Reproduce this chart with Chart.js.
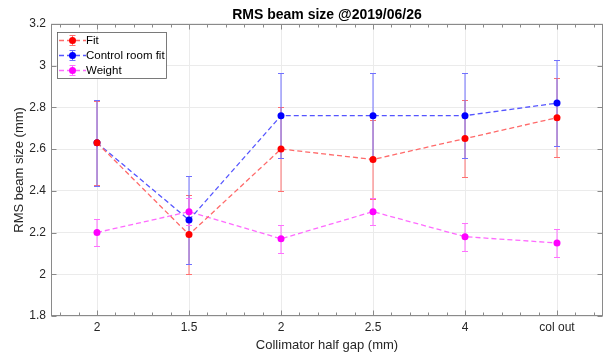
<!DOCTYPE html>
<html>
<head>
<meta charset="utf-8">
<script src="https://cdn.jsdelivr.net/npm/chart.js"></script>
<style>
  html, body { margin: 0; padding: 0; background: #fff; }
</style>
</head>
<body>
<canvas id="myChart" width="607" height="356"></canvas>
<script>
  // collimator half gap settings (x categories)
  const categories = ['2', '1.5', '2', '2.5', '4', 'col out'];

  const fitValues = [2.63, 2.19, 2.60, 2.55, 2.65, 2.75];
  const fitErrors = [0.20, 0.19, 0.20, 0.19, 0.185, 0.19];

  const controlValues = [2.63, 2.26, 2.76, 2.76, 2.76, 2.82];
  const controlErrors = [0.205, 0.21, 0.205, 0.205, 0.205, 0.205];

  const weightValues = [2.20, 2.30, 2.17, 2.30, 2.18, 2.15];
  const weightErrors = [0.065, 0.065, 0.067, 0.065, 0.067, 0.065];

  const yTicks = [1.8, 2, 2.2, 2.4, 2.6, 2.8, 3, 3.2];

  const FONT = 'Liberation Sans, Arial, Helvetica, sans-serif';

  // thin matlab lines look washed out, so use lighter opaque colours
  const solidColors = ['#ff0000', '#0000ff', '#ff00ff'];
  const lineColors = ['#ff6a6a', '#5555ff', '#ff6aff'];
  const errorColors = ['#ff7070', '#7070ff', '#ff70ff'];
  const errorSets = [fitErrors, controlErrors, weightErrors];

  const toPoints = vals => vals.map((v, i) => ({ x: i + 1, y: v }));

  const makeSet = (label, vals, k) => ({
    label: label,
    data: toPoints(vals),
    borderColor: lineColors[k],
    backgroundColor: solidColors[k],
    borderWidth: 1.3,
    borderDash: [5, 3],
    pointRadius: 3.5,
    pointBorderWidth: 0,
    pointBackgroundColor: solidColors[k],
    tension: 0,
    fill: false
  });

  const datasets = [
    makeSet('Fit', fitValues, 0),
    makeSet('Control room fit', controlValues, 1),
    makeSet('Weight', weightValues, 2)
  ];

  // vertical error bars with caps, drawn under the markers
  const errorBars = {
    id: 'errorBars',
    beforeDatasetsDraw(chart) {
      const { ctx, scales: { x, y } } = chart;
      ctx.save();
      ctx.lineWidth = 1;
      chart.data.datasets.forEach((ds, k) => {
        ctx.strokeStyle = errorColors[k];
        ds.data.forEach((p, i) => {
          const e = errorSets[k][i];
          const px = Math.round(x.getPixelForValue(p.x));
          const top = Math.round(y.getPixelForValue(p.y + e)) + 0.5;
          const bot = Math.round(y.getPixelForValue(p.y - e)) + 0.5;
          ctx.beginPath();
          ctx.moveTo(px, top); ctx.lineTo(px, bot);
          ctx.moveTo(px - 3, top); ctx.lineTo(px + 3, top);
          ctx.moveTo(px - 3, bot); ctx.lineTo(px + 3, bot);
          ctx.stroke();
        });
      });
      ctx.restore();
    }
  };

  // matlab style box with inward ticks
  const axesBox = {
    id: 'axesBox',
    afterDraw(chart) {
      const { ctx, chartArea: a, scales: { x, y } } = chart;
      ctx.save();
      ctx.strokeStyle = '#8a8a8a';
      ctx.lineWidth = 1;
      const L = Math.round(a.left) + 0.5, R = Math.round(a.right) - 0.5;
      const T = Math.round(a.top) + 0.5, B = Math.round(a.bottom) - 0.5;
      ctx.strokeRect(L, T, R - L, B - T);
      ctx.beginPath();
      for (let k = 3; k <= 32; k++) {
        const v = k / 5;
        const px = Math.round(x.getPixelForValue(v)) + 0.5;
        const len = (k % 5 === 0) ? 5 : 3;
        ctx.moveTo(px, B); ctx.lineTo(px, B - len);
        ctx.moveTo(px, T); ctx.lineTo(px, T + len);
      }
      yTicks.forEach(v => {
        const py = Math.round(y.getPixelForValue(v)) + 0.5;
        ctx.moveTo(L, py); ctx.lineTo(L + 5, py);
        ctx.moveTo(R, py); ctx.lineTo(R - 5, py);
      });
      ctx.stroke();
      ctx.restore();
    }
  };

  // legend box in the upper left corner
  const legendBox = {
    id: 'legendBox',
    afterDraw(chart) {
      const { ctx } = chart;
      const bx = 57.5, by = 32.5, bw = 109, bh = 46;
      ctx.save();
      ctx.fillStyle = '#fff';
      ctx.fillRect(bx, by, bw, bh);
      ctx.strokeStyle = '#5a5a5a';
      ctx.lineWidth = 0.8;
      ctx.strokeRect(bx, by, bw, bh);
      ctx.font = `11.5px ${FONT}`;
      ctx.textBaseline = 'middle';
      chart.data.datasets.forEach((ds, k) => {
        const cy = Math.round(40 + k * 15.2);
        const mx = 72;
        ctx.strokeStyle = lineColors[k];
        ctx.lineWidth = 1.3;
        ctx.setLineDash([5, 3]);
        ctx.beginPath();
        ctx.moveTo(59, cy + 0.5); ctx.lineTo(86, cy + 0.5);
        ctx.stroke();
        ctx.setLineDash([]);
        ctx.strokeStyle = errorColors[k];
        ctx.lineWidth = 1;
        ctx.beginPath();
        ctx.moveTo(mx + 0.5, cy - 5); ctx.lineTo(mx + 0.5, cy + 6);
        ctx.moveTo(mx - 2.5, cy - 4.5); ctx.lineTo(mx + 3.5, cy - 4.5);
        ctx.moveTo(mx - 2.5, cy + 5.5); ctx.lineTo(mx + 3.5, cy + 5.5);
        ctx.stroke();
        ctx.fillStyle = solidColors[k];
        ctx.beginPath();
        ctx.arc(mx + 0.5, cy + 0.5, 3.5, 0, Math.PI * 2);
        ctx.fill();
        ctx.fillStyle = '#000';
        ctx.fillText(ds.label, 86, cy + 1);
      });
      ctx.restore();
    }
  };

  const ctx = document.getElementById('myChart').getContext('2d');
  new Chart(ctx, {
    type: 'line',
    data: { datasets: datasets },
    options: {
      responsive: false,
      animation: false,
      layout: { padding: { left: 0, right: 1, top: 0, bottom: 0 } },
      plugins: {
        legend: { display: false },
        tooltip: { enabled: false },
        title: {
          display: true,
          fullSize: false,
          text: 'RMS beam size @2019/06/26',
          color: '#000',
          font: { family: FONT, size: 14, weight: 'bold' },
          padding: { top: 7, bottom: 0 }
        }
      },
      scales: {
        x: {
          type: 'linear',
          min: 0.5,
          max: 6.5,
          afterBuildTicks: s => { s.ticks = categories.map((c, i) => ({ value: i + 1 })); },
          afterFit: s => { s.height = 40; },
          ticks: {
            callback: (v, i) => categories[i],
            autoSkip: false,
            maxRotation: 0,
            padding: 4,
            color: '#262626',
            font: { family: FONT, size: 12 }
          },
          grid: { color: '#ebebeb', drawTicks: false },
          border: { display: false },
          title: {
            display: true,
            text: 'Collimator half gap (mm)',
            color: '#262626',
            font: { family: FONT, size: 13 },
            padding: { top: 0, bottom: 3 }
          }
        },
        y: {
          min: 1.8,
          max: 3.2,
          afterBuildTicks: s => { s.ticks = yTicks.map(v => ({ value: v })); },
          afterFit: s => { s.width = 51; },
          ticks: {
            callback: v => String(+v.toFixed(1)),
            padding: 5,
            color: '#262626',
            font: { family: FONT, size: 12 }
          },
          grid: { color: '#ebebeb', drawTicks: false },
          border: { display: false },
          title: {
            display: true,
            text: 'RMS beam size (mm)',
            color: '#262626',
            font: { family: FONT, size: 13 },
            padding: { top: 12, bottom: 0 }
          }
        }
      }
    },
    plugins: [errorBars, axesBox, legendBox]
  });
</script>
</body>
</html>
